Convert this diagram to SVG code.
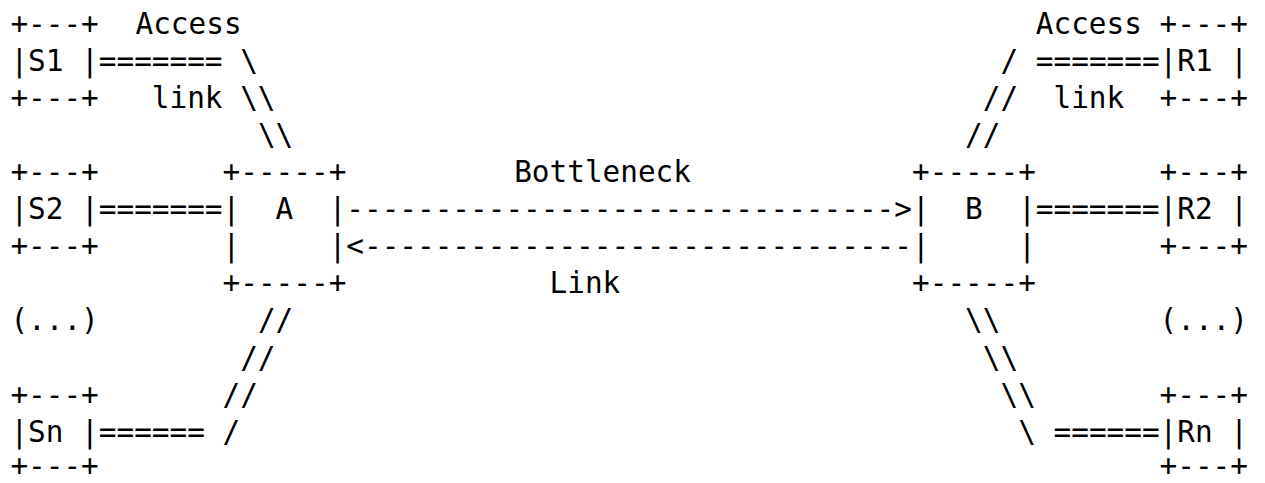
<svg xmlns="http://www.w3.org/2000/svg" width="1265" height="483" viewBox="0 0 1265 483">
<style>
text { font-family: "DejaVu Sans Mono", "Liberation Mono", monospace; font-size: 29.37px; fill: #000; white-space: pre; }
</style>
<rect width="1265" height="483" fill="#fff"/>
<g id="S1">
<text x="10.4" y="33.8">+---+</text>
<text x="10.4" y="70.9">|S1 |</text>
<text x="10.4" y="108">+---+</text>
</g>
<g id="S2">
<text x="10.4" y="182.1">+---+</text>
<text x="10.4" y="219.2">|S2 |</text>
<text x="10.4" y="256.2">+---+</text>
</g>
<g id="S_dots">
<text x="10.4" y="330.4">(...)</text>
</g>
<g id="Sn">
<text x="10.4" y="404.6">+---+</text>
<text x="10.4" y="441.7">|Sn |</text>
<text x="10.4" y="476">+---+</text>
</g>
<g id="A">
<text x="222.6" y="182.1">+-----+</text>
<text x="222.6" y="219.2">|  A  |</text>
<text x="222.6" y="256.2">|     |</text>
<text x="222.6" y="293.3">+-----+</text>
</g>
<g id="B">
<text x="912.1" y="182.1">+-----+</text>
<text x="912.1" y="219.2">|  B  |</text>
<text x="912.1" y="256.2">|     |</text>
<text x="912.1" y="293.3">+-----+</text>
</g>
<g id="R1">
<text x="1159.6" y="33.8">+---+</text>
<text x="1159.6" y="70.9">|R1 |</text>
<text x="1159.6" y="108">+---+</text>
</g>
<g id="R2">
<text x="1159.6" y="182.1">+---+</text>
<text x="1159.6" y="219.2">|R2 |</text>
<text x="1159.6" y="256.2">+---+</text>
</g>
<g id="R_dots">
<text x="1159.6" y="330.4">(...)</text>
</g>
<g id="Rn">
<text x="1159.6" y="404.6">+---+</text>
<text x="1159.6" y="441.7">|Rn |</text>
<text x="1159.6" y="476">+---+</text>
</g>
<g id="connectors">
<text x="135.5" y="33.8">Access</text>
<text x="98.8" y="70.9">======= \</text>
<text x="151.8" y="108">link \\</text>
<text x="257.9" y="145">\\</text>
<text x="98.8" y="219.2">=======</text>
<text x="346.3" y="219.2">-------------------------------&gt;</text>
<text x="346.3" y="256.2">&lt;-------------------------------</text>
<text x="514.2" y="182.1">Bottleneck</text>
<text x="549.6" y="293.3">Link</text>
<text x="257.9" y="330.4">//</text>
<text x="240.2" y="367.5">//</text>
<text x="222.6" y="404.6">//</text>
<text x="98.8" y="441.7">====== /</text>
<text x="1035.8" y="33.8">Access</text>
<text x="1000.5" y="70.9">/ =======</text>
<text x="982.8" y="108">//  link</text>
<text x="965.1" y="145">//</text>
<text x="1035.8" y="219.2">=======</text>
<text x="965.1" y="330.4">\\</text>
<text x="982.8" y="367.5">\\</text>
<text x="1000.5" y="404.6">\\</text>
<text x="1018.2" y="441.7">\ ======</text>
</g>
</svg>
